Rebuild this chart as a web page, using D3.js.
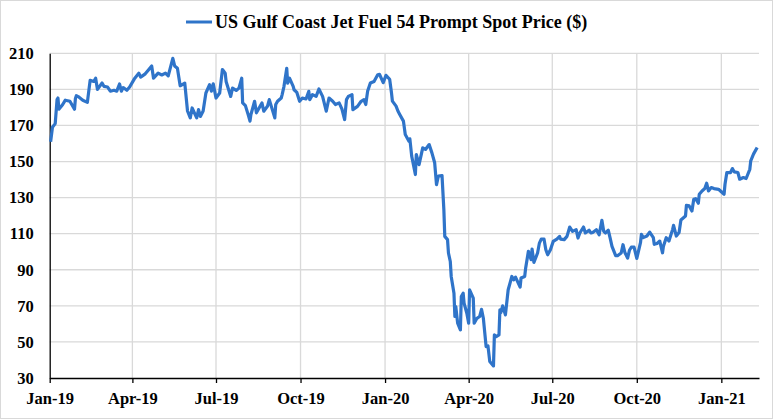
<!DOCTYPE html>
<html>
<head>
<meta charset="utf-8">
<script src="https://cdn.jsdelivr.net/npm/d3@7"></script>
<style>
  body { margin: 0; background: #fff; }
  text { font-family: "Liberation Serif", "Times New Roman", serif; font-weight: bold; fill: #000; }
</style>
</head>
<body>
<div id="c1"></div>
<script>
// Data
var seriesName = "US Gulf Coast Jet Fuel 54 Prompt Spot Price ($)";

var priceDates = [
  "2019-01-02","2019-01-04","2019-01-07","2019-01-09","2019-01-10","2019-01-11","2019-01-15","2019-01-18",
  "2019-01-23","2019-01-28","2019-01-29","2019-01-30","2019-02-01","2019-02-06","2019-02-11","2019-02-14",
  "2019-02-18","2019-02-20","2019-02-22","2019-02-27","2019-03-01","2019-03-05","2019-03-08","2019-03-12",
  "2019-03-15","2019-03-18","2019-03-20","2019-03-22","2019-03-26","2019-03-29","2019-04-03","2019-04-08",
  "2019-04-10","2019-04-15","2019-04-18","2019-04-22","2019-04-24","2019-04-29","2019-05-03","2019-05-07",
  "2019-05-10","2019-05-15","2019-05-17","2019-05-20","2019-05-23","2019-05-28","2019-05-31","2019-06-03",
  "2019-06-05","2019-06-10","2019-06-12","2019-06-14","2019-06-17","2019-06-20","2019-06-24","2019-06-26",
  "2019-06-28","2019-07-01","2019-07-05","2019-07-08","2019-07-11","2019-07-12","2019-07-17","2019-07-19",
  "2019-07-23","2019-07-26","2019-07-29","2019-07-30","2019-08-02","2019-08-05","2019-08-07","2019-08-08",
  "2019-08-12","2019-08-14","2019-08-16","2019-08-20","2019-08-22","2019-08-26","2019-08-28","2019-09-03",
  "2019-09-04","2019-09-06","2019-09-10","2019-09-11","2019-09-13","2019-09-16","2019-09-17","2019-09-19",
  "2019-09-23","2019-09-24","2019-09-27","2019-09-30","2019-10-03","2019-10-07","2019-10-10","2019-10-11",
  "2019-10-14","2019-10-18","2019-10-21","2019-10-25","2019-10-29","2019-11-01","2019-11-05","2019-11-08",
  "2019-11-12","2019-11-15","2019-11-18","2019-11-20","2019-11-22","2019-11-26","2019-11-27","2019-12-02",
  "2019-12-06","2019-12-09","2019-12-11","2019-12-13","2019-12-16","2019-12-20","2019-12-24","2019-12-26",
  "2019-12-30","2020-01-02","2020-01-06","2020-01-08","2020-01-09","2020-01-13","2020-01-15","2020-01-17",
  "2020-01-21","2020-01-23","2020-01-27","2020-01-28","2020-01-30","2020-02-03","2020-02-04","2020-02-07",
  "2020-02-11","2020-02-14","2020-02-18","2020-02-21","2020-02-24","2020-02-26","2020-02-28","2020-03-03",
  "2020-03-05","2020-03-06","2020-03-09","2020-03-10","2020-03-12","2020-03-13","2020-03-16","2020-03-17",
  "2020-03-18","2020-03-20","2020-03-23","2020-03-24","2020-03-26","2020-03-27","2020-03-30","2020-04-01",
  "2020-04-02","2020-04-06","2020-04-07","2020-04-10","2020-04-13","2020-04-15","2020-04-17","2020-04-20",
  "2020-04-22","2020-04-24","2020-04-28","2020-04-29","2020-05-01","2020-05-04","2020-05-05","2020-05-06",
  "2020-05-08","2020-05-11","2020-05-13","2020-05-14","2020-05-15","2020-05-18","2020-05-20","2020-05-22",
  "2020-05-27","2020-05-28","2020-06-01","2020-06-02","2020-06-05","2020-06-08","2020-06-09","2020-06-11",
  "2020-06-15","2020-06-17","2020-06-19","2020-06-22","2020-06-24","2020-06-26","2020-06-29","2020-07-02",
  "2020-07-06","2020-07-09","2020-07-10","2020-07-14","2020-07-17","2020-07-20","2020-07-23","2020-07-27",
  "2020-07-29","2020-07-31","2020-08-04","2020-08-06","2020-08-10","2020-08-12","2020-08-14","2020-08-18",
  "2020-08-21","2020-08-24","2020-08-26","2020-08-28","2020-08-31","2020-09-02","2020-09-04","2020-09-08",
  "2020-09-10","2020-09-14","2020-09-16","2020-09-18","2020-09-21","2020-09-23","2020-09-25","2020-09-28",
  "2020-10-01","2020-10-05","2020-10-06","2020-10-08","2020-10-12","2020-10-15","2020-10-19","2020-10-20",
  "2020-10-23","2020-10-26","2020-10-29","2020-10-30","2020-11-02","2020-11-05","2020-11-09","2020-11-10",
  "2020-11-13","2020-11-16","2020-11-18","2020-11-23","2020-11-24","2020-11-27","2020-11-30","2020-12-02",
  "2020-12-04","2020-12-07","2020-12-08","2020-12-11","2020-12-14","2020-12-16","2020-12-18","2020-12-21",
  "2020-12-24","2020-12-29","2021-01-04","2021-01-05","2021-01-07","2021-01-11","2021-01-13","2021-01-15",
  "2021-01-19","2021-01-21","2021-01-25","2021-01-28","2021-02-01","2021-02-02","2021-02-05","2021-02-09"
];

var priceValues = [
  161, 169, 171, 184.3, 185.2, 179, 181.5, 184,
  183.4, 179, 185, 186.5, 186, 184, 182.8, 195,
  194.4, 196.2, 190, 193.5, 191.7, 191.3, 189, 189.5,
  189, 193, 189, 191, 189.5, 191.3, 195.7, 199,
  196.8, 198.6, 200.5, 203, 196.2, 199, 198, 199,
  197.5, 207.2, 203, 201.7, 192, 193.5, 178, 174.2,
  179.7, 174.2, 178.8, 175, 178, 188, 192.6, 189,
  193.1, 185.2, 188, 201, 199, 194.4, 186.1, 190.7,
  189.4, 190.7, 196.2, 182.5, 181, 176, 172.4, 176,
  183.4, 177, 178.8, 182.5, 177.9, 180.6, 184.3, 174.2,
  181.6, 183.4, 185.2, 187.1, 191.7, 201.7, 193.5, 196.2,
  191.7, 189.8, 188.3, 183.4, 185.2, 184.7, 188.9, 184.3,
  187.1, 186.1, 190.2, 186.1, 177.9, 185.2, 183.4, 181.6,
  182.5, 179.2, 173.3, 184.3, 186.1, 187.1, 178.8, 180.6,
  183.4, 184.3, 181.6, 188.9, 193.5, 194.4, 198.1, 198.3,
  193.7, 197.8, 195.6, 188.1, 183.5, 180.7, 178, 176.1,
  172.4, 165, 161.3, 162.6, 153, 142.8, 153.9, 148.3,
  157.6, 156.7, 159.4, 154.8, 149.3, 137.2, 141.9, 142.2,
  123.3, 108.5, 106.7, 99.3, 94.6, 86.3, 77, 64.1,
  69.6, 60.4, 56.7, 75.2, 77, 71.5, 65.9, 60.4,
  78.9, 74.3, 60.4, 63.1, 64.1, 68.1, 63.1, 47.4,
  47.8, 39.1, 36.7, 53.9, 53, 53.9, 67.8, 66.3,
  70, 65, 74.3, 78.9, 80.7, 86.3, 84.4, 85.9,
  80.4, 85.4, 86.3, 90.9, 100.2, 95.6, 101.5, 94.1,
  99.3, 104.8, 107, 107, 101.1, 98.3, 101.1, 105.7,
  107, 108.5, 107, 106.7, 108.5, 113.7, 111.3, 112.2,
  107.6, 110.4, 113.7, 110.4, 111.9, 110.4, 110.7, 112.2,
  109.4, 117.4, 111.3, 110.4, 111.9, 107.6, 103, 97.8,
  97.8, 99.3, 103.9, 99.6, 96.5, 100.8, 102.5, 102.5,
  96.3, 105, 109.6, 107.8, 108.7, 110.9, 107.8, 104.1,
  104.6, 105.9, 99.4, 103.1, 107.8, 105.9, 112.4, 114.6,
  108.7, 110.6, 117.6, 119.8, 125.7, 125.4, 122.6, 129.1,
  129.4, 126.9, 131.9, 133.7, 135, 138, 133.7, 135.6,
  135, 134.6, 131.9, 137.4, 143.9, 143.9, 146.1, 144.3,
  143.9, 140.2, 141.1, 140.6, 145.7, 150.4, 154.1, 157.8
];

var yTicks = [30, 50, 70, 90, 110, 130, 150, 170, 190, 210];
var xTickDates = ["2019-01-01","2019-04-01","2019-07-01","2019-10-01","2020-01-01",
                  "2020-04-01","2020-07-01","2020-10-01","2021-01-01"];
var xStart = "2019-01-01";
var xEnd = "2021-02-11";

var w = 773;
var h = 419;
var plotLeft = 49.7, plotRight = 759, plotTop = 53.3, plotBottom = 378;
var lineColor = "#2f74c9";
var gridColor = "#d9d9d9";

function draw() {
    var parseDate = d3.timeParse("%Y-%m-%d");
    var data = priceDates.map(function (d, i) {
        return { date: parseDate(d), value: priceValues[i] };
    });

    var svg = d3.select("#c1").append("svg")
        .attr("width", w)
        .attr("height", h);

    // outer frame
    svg.append("rect")
        .attr("x", 0.5).attr("y", 0.5)
        .attr("width", w - 1).attr("height", h - 1)
        .attr("fill", "#fff")
        .attr("stroke", gridColor);

    var x = d3.scaleTime()
        .domain([parseDate(xStart), parseDate(xEnd)])
        .range([plotLeft, plotRight]);
    var y = d3.scaleLinear()
        .domain([30, 210])
        .range([plotBottom, plotTop]);

    var xTicks = xTickDates.map(parseDate);

    // gridlines
    svg.append("g")
        .selectAll("line.hgrid")
        .data(yTicks.slice(1))
        .enter().append("line")
        .attr("x1", plotLeft).attr("x2", plotRight)
        .attr("y1", function (d) { return y(d); })
        .attr("y2", function (d) { return y(d); })
        .attr("stroke", gridColor)
        .attr("stroke-width", 1.3);

    svg.append("g")
        .selectAll("line.vgrid")
        .data(xTicks.slice(1))
        .enter().append("line")
        .attr("x1", function (d) { return x(d); })
        .attr("x2", function (d) { return x(d); })
        .attr("y1", plotTop).attr("y2", plotBottom)
        .attr("stroke", gridColor)
        .attr("stroke-width", 1.3);

    // axes
    var xAxis = svg.append("g")
        .attr("transform", "translate(0," + plotBottom + ")")
        .call(d3.axisBottom(x)
            .tickValues(xTicks)
            .tickFormat(d3.timeFormat("%b-%y"))
            .tickSize(5)
            .tickSizeOuter(0));
    xAxis.select(".domain").attr("stroke", "#000").attr("stroke-width", 1.3);
    xAxis.selectAll(".tick line").attr("stroke", "#000").attr("stroke-width", 1.3);
    xAxis.selectAll(".tick text")
        .attr("y", 14)
        .attr("font-size", 16.5)
        .style("font-family", "Liberation Serif, serif")
        .style("font-weight", "bold");

    var yAxis = svg.append("g")
        .attr("transform", "translate(" + plotLeft + ",0)")
        .call(d3.axisLeft(y)
            .tickValues(yTicks)
            .tickSize(0)
            .tickPadding(16)
            .tickSizeOuter(0));
    yAxis.select(".domain").attr("stroke", "#000").attr("stroke-width", 1.3);
    yAxis.selectAll(".tick text")
        .attr("font-size", 16.5)
        .style("font-family", "Liberation Serif, serif")
        .style("font-weight", "bold");

    // price line
    var line = d3.line()
        .x(function (d) { return x(d.date); })
        .y(function (d) { return y(d.value); });

    svg.append("path")
        .datum(data)
        .attr("fill", "none")
        .attr("stroke", lineColor)
        .attr("stroke-width", 3.2)
        .attr("stroke-linejoin", "round")
        .attr("d", line);

    // legend
    var legend = svg.append("g").attr("transform", "translate(186,22)");
    legend.append("line")
        .attr("x1", 0).attr("x2", 26)
        .attr("y1", 0).attr("y2", 0)
        .attr("stroke", lineColor)
        .attr("stroke-width", 3);
    legend.append("text")
        .attr("x", 29)
        .attr("y", 6)
        .attr("font-size", 18)
        .text(seriesName);
}

draw();
</script>
</body>
</html>
